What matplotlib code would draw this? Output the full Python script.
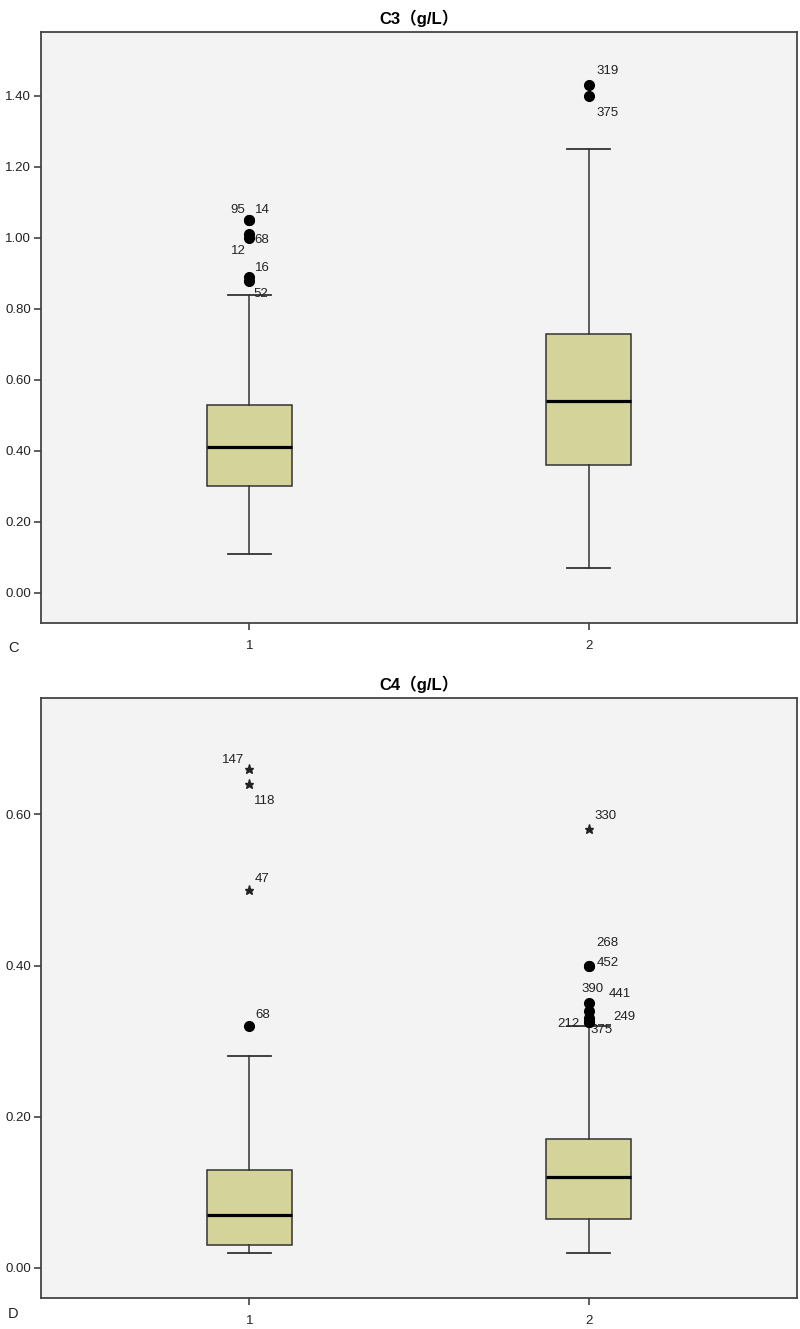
import matplotlib
matplotlib.use("Agg")
import matplotlib.pyplot as plt

# ---------------- data ----------------
groups = ["1", "2"]

c3_title = "C3（g/L）"
c3_whislo = [0.11, 0.07]
c3_q1 = [0.30, 0.36]
c3_med = [0.41, 0.54]
c3_q3 = [0.53, 0.73]
c3_whishi = [0.84, 1.25]
c3_out_vals = [[1.05, 1.05, 1.01, 1.00, 0.89, 0.88], [1.43, 1.40]]
c3_out_ids = [["95", "14", "68", "12", "16", "52"], ["319", "375"]]
c3_ext_vals = [[], []]
c3_ext_ids = [[], []]
c3_yticks = [0.00, 0.20, 0.40, 0.60, 0.80, 1.00, 1.20, 1.40]

c4_title = "C4（g/L）"
c4_whislo = [0.02, 0.02]
c4_q1 = [0.03, 0.065]
c4_med = [0.07, 0.12]
c4_q3 = [0.13, 0.17]
c4_whishi = [0.28, 0.32]
c4_out_vals = [[0.32], [0.40, 0.40, 0.35, 0.34, 0.33, 0.325, 0.325]]
c4_out_ids = [["68"], ["268", "452", "390", "441", "249", "212", "375"]]
c4_ext_vals = [[0.66, 0.64, 0.50], [0.58]]
c4_ext_ids = [["147", "118", "47"], ["330"]]
c4_yticks = [0.00, 0.20, 0.40, 0.60]

# ---------------- label placement (pixels offset, alignment) -------------
c3_out_pos = [[(-4, 10, "right"), (6, 10, "left"), (5, -6, "left"),
               (-4, -13, "right"), (6, 9, "left"), (4, -13, "left")],
              [(8, 14, "left"), (8, -17, "left")]]
c3_ext_pos = [[], []]
c4_out_pos = [[(6, 11, "left")],
              [(8, 23, "left"), (8, 3, "left"), (4, 14, "center"),
               (20, 17, "left"), (25, 1, "left"), (-20, -2, "center"),
               (2, -8, "left")]]
c4_ext_pos = [[(-5, 9, "right"), (5, -17, "left"), (5, 11, "left")],
              [(6, 13, "left")]]

FONT = ["Liberation Sans", "Noto Sans CJK SC", "DejaVu Sans"]
plt.rcParams["font.family"] = FONT

BOX_FACE = "#D4D49A"
LINE = "#333333"
BG = "#F3F3F3"

fig = plt.figure(figsize=(8.0, 13.29), dpi=100)
fig.patch.set_facecolor("white")


def draw_panel(rect, title, whislo, q1, med, q3, whishi, out_vals, out_ids,
               ext_vals, ext_ids, out_pos, ext_pos, yticks, ylim, letter,
               letter_y):
    ax = fig.add_axes(rect)
    ax.set_facecolor(BG)
    stats = []
    for i in range(len(groups)):
        stats.append(dict(med=med[i], q1=q1[i], q3=q3[i], whislo=whislo[i],
                          whishi=whishi[i], fliers=[], label=groups[i]))
    positions = list(range(1, len(groups) + 1))
    ax.bxp(stats, positions=positions, widths=0.25, patch_artist=True,
           showfliers=False,
           boxprops=dict(facecolor=BOX_FACE, edgecolor=LINE, linewidth=1.1),
           medianprops=dict(color="black", linewidth=2.3),
           whiskerprops=dict(color=LINE, linewidth=1.1),
           capprops=dict(color=LINE, linewidth=1.3),
           capwidths=0.125)
    for i, p in enumerate(positions):
        if out_vals[i]:
            ax.plot([p] * len(out_vals[i]), out_vals[i], "o", color="black",
                    markersize=7, zorder=5)
        for v, t, (dx, dy, ha) in zip(out_vals[i], out_ids[i], out_pos[i]):
            ax.annotate(t, (p, v), xytext=(dx, dy), textcoords="offset pixels",
                        ha=ha, va="center", fontsize=9.5, color="#222222")
        if ext_vals[i]:
            ax.plot([p] * len(ext_vals[i]), ext_vals[i], "*", color="#222222",
                    markersize=6.5, zorder=5)
        for v, t, (dx, dy, ha) in zip(ext_vals[i], ext_ids[i], ext_pos[i]):
            ax.annotate(t, (p, v), xytext=(dx, dy), textcoords="offset pixels",
                        ha=ha, va="center", fontsize=9.5, color="#222222")
    ax.set_xlim(0.386, 2.614)
    ax.set_ylim(*ylim)
    ax.set_xticks(positions)
    ax.set_xticklabels(groups, fontsize=9.5)
    ax.set_yticks(yticks)
    ax.set_yticklabels([f"{v:.2f}" for v in yticks], fontsize=9.5)
    ax.tick_params(axis="both", direction="out", length=5, width=1.1,
                   color=LINE, labelcolor="#222222", pad=2)
    ax.tick_params(axis="x", pad=7)
    for s in ax.spines.values():
        s.set_color("#444444")
        s.set_linewidth(1.3)
    ax.set_title(title, fontsize=12, fontweight="bold", pad=6,
                 family=FONT)
    fig.text(0.01, letter_y, letter, fontsize=10.5, ha="left", va="center",
             color="#222222")
    return ax


draw_panel([0.05125, 0.5312, 0.9450, 0.4447], c3_title, c3_whislo, c3_q1,
           c3_med, c3_q3, c3_whishi, c3_out_vals, c3_out_ids, c3_ext_vals,
           c3_ext_ids, c3_out_pos, c3_ext_pos, c3_yticks, (-0.085, 1.58),
           "C", 1 - 648 / 1329)
draw_panel([0.05125, 0.0233, 0.9450, 0.4515], c4_title, c4_whislo, c4_q1,
           c4_med, c4_q3, c4_whishi, c4_out_vals, c4_out_ids, c4_ext_vals,
           c4_ext_ids, c4_out_pos, c4_ext_pos, c4_yticks, (-0.040, 0.754),
           "D", 1 - 1314 / 1329)

fig.savefig("out.png", dpi=100, facecolor="white")
